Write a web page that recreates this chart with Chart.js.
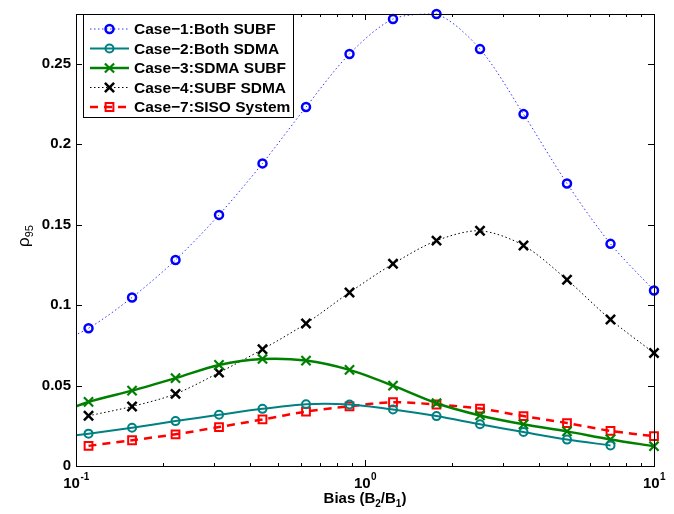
<!DOCTYPE html>
<html>
<head>
<meta charset="utf-8">
<script src="https://cdn.jsdelivr.net/npm/chart.js@4.4.0/dist/chart.umd.min.js"></script>
<style>
  html, body { margin: 0; padding: 0; background: #fff; }
  #wrap { width: 674px; height: 514px; }
</style>
</head>
<body>
<div id="wrap"><canvas id="rhoChart" width="674" height="514"></canvas></div>
<script>
// Bias ratio B2/B1 (first entry lies just left of the axis so the curves run in from the edge)
const bias = [0.0781, 0.1105, 0.1563, 0.221, 0.3125, 0.4419, 0.625, 0.8839, 1.25, 1.7678, 2.5, 3.5355, 5, 7.0711, 10];

const case1BothSubf = [0.073, 0.0856, 0.1047, 0.128, 0.156, 0.188, 0.223, 0.256, 0.2777, 0.2808, 0.259, 0.2186, 0.1755, 0.138, 0.109];
const case2BothSdma = [0.0166, 0.0201, 0.0238, 0.0279, 0.0318, 0.0355, 0.0384, 0.0382, 0.0351, 0.031, 0.0259, 0.0211, 0.0164, 0.0128, null];
const case3SdmaSubf = [0.0297, 0.0398, 0.0468, 0.0546, 0.0628, 0.0665, 0.0655, 0.0597, 0.0499, 0.039, 0.0314, 0.0259, 0.0215, 0.0165, 0.0123];
const case4SubfSdma = [null, 0.0312, 0.037, 0.0448, 0.058, 0.0725, 0.0885, 0.1078, 0.1256, 0.140, 0.1461, 0.137, 0.1157, 0.091, 0.0702];
const case7Siso = [null, 0.0125, 0.016, 0.0197, 0.0242, 0.0289, 0.0338, 0.0371, 0.0396, 0.0382, 0.0357, 0.031, 0.0267, 0.0218, 0.0185];

const seriesNames = ['Case\u22121:Both SUBF', 'Case\u22122:Both SDMA', 'Case\u22123:SDMA SUBF', 'Case\u22124:SUBF SDMA', 'Case\u22127:SISO System'];

const yTicks = [0, 0.05, 0.1, 0.15, 0.2, 0.25];
const yTickLabels = ['0', '0.05', '0.1', '0.15', '0.2', '0.25'];
const xTicks = [0.1, 1, 10];
const xTickExponents = ['-1', '0', '1'];

const FONT = '"Liberation Sans", Arial, Helvetica, sans-serif';
const NONE = 'rgba(0,0,0,0)';

function toPoints(values) {
    return bias.map((b, i) => ({ x: b, y: values[i] }));
}

// clip exactly at the left edge, let markers spill over the other sides
const clipBox = { left: 0, top: 8, right: 8, bottom: 8 };

const datasets = [
    {
        label: seriesNames[0], data: toPoints(case1BothSubf),
        borderColor: '#3333ff', borderWidth: 1, borderDash: [1.5, 2.5],
        pointStyle: 'circle', pointRadius: 4, pointBorderWidth: 2.5,
        pointBorderColor: '#0000ff', pointBackgroundColor: NONE
    },
    {
        label: seriesNames[1], data: toPoints(case2BothSdma),
        borderColor: '#008080', borderWidth: 2, borderDash: [],
        pointStyle: 'circle', pointRadius: 4, pointBorderWidth: 2,
        pointBorderColor: '#008080', pointBackgroundColor: NONE
    },
    {
        label: seriesNames[2], data: toPoints(case3SdmaSubf),
        borderColor: '#008000', borderWidth: 2.5, borderDash: [],
        pointStyle: 'crossRot', pointRadius: 6.5, pointBorderWidth: 2.2,
        pointBorderColor: '#008000', pointBackgroundColor: NONE
    },
    {
        label: seriesNames[3], data: toPoints(case4SubfSdma),
        borderColor: '#000000', borderWidth: 1, borderDash: [1.5, 2.5],
        pointStyle: 'crossRot', pointRadius: 6.5, pointBorderWidth: 2.5,
        pointBorderColor: '#000000', pointBackgroundColor: NONE
    },
    {
        label: seriesNames[4], data: toPoints(case7Siso),
        borderColor: '#ff0000', borderWidth: 2.5, borderDash: [8, 6],
        pointStyle: 'rect', pointRadius: 5.5, pointBorderWidth: 2,
        pointBorderColor: '#ff0000', pointBackgroundColor: NONE
    }
].map(ds => Object.assign(ds, { tension: 0.3, fill: false, clip: clipBox, spanGaps: false }));

// box, inward ticks, tick labels, axis titles and legend in the MATLAB look
const matlabFrame = {
    id: 'matlabFrame',
    afterDraw(chart) {
        const { ctx, chartArea: a, scales: { x, y } } = chart;
        ctx.save();
        ctx.strokeStyle = '#000';
        ctx.fillStyle = '#000';
        ctx.lineWidth = 1;
        ctx.setLineDash([]);
        ctx.strokeRect(a.left + 0.5, a.top + 0.5, a.right - a.left, a.bottom - a.top);

        ctx.beginPath();
        yTicks.forEach(v => {
            const py = Math.round(y.getPixelForValue(v)) + 0.5;
            ctx.moveTo(a.left, py); ctx.lineTo(a.left + 6, py);
            ctx.moveTo(a.right, py); ctx.lineTo(a.right - 6, py);
        });
        xTicks.forEach(v => {
            const px = Math.round(x.getPixelForValue(v)) + 0.5;
            ctx.moveTo(px, a.bottom); ctx.lineTo(px, a.bottom - 6);
            ctx.moveTo(px, a.top); ctx.lineTo(px, a.top + 6);
        });
        for (let i = 0; i < xTicks.length - 1; i++) {
            for (let m = 2; m <= 9; m++) {
                const px = Math.round(x.getPixelForValue(xTicks[i] * m)) + 0.5;
                ctx.moveTo(px, a.bottom); ctx.lineTo(px, a.bottom - 3);
                ctx.moveTo(px, a.top); ctx.lineTo(px, a.top + 3);
            }
        }
        ctx.stroke();

        // x tick labels: 10 with a raised exponent
        ctx.textBaseline = 'middle';
        ctx.textAlign = 'left';
        xTicks.forEach((v, i) => {
            const px = x.getPixelForValue(v);
            ctx.font = 'bold 15px ' + FONT;
            const wBase = ctx.measureText('10').width;
            ctx.font = 'bold 10px ' + FONT;
            const wExp = ctx.measureText(xTickExponents[i]).width;
            const start = px - (wBase + wExp) / 2;
            ctx.font = 'bold 15px ' + FONT;
            ctx.fillText('10', start, a.bottom + 18);
            ctx.font = 'bold 10px ' + FONT;
            ctx.fillText(xTickExponents[i], start + wBase + 0.5, a.bottom + 11);
        });

        // x title: Bias (B2/B1) with subscripts
        const parts = [['Bias (B', 0], ['2', 1], ['/B', 0], ['1', 1], [')', 0]];
        const fontFor = sub => (sub ? 'bold 10px ' : 'bold 15px ') + FONT;
        let total = 0;
        parts.forEach(([t, sub]) => { ctx.font = fontFor(sub); total += ctx.measureText(t).width; });
        let cx = (a.left + a.right) / 2 - total / 2;
        parts.forEach(([t, sub]) => {
            ctx.font = fontFor(sub);
            ctx.fillText(t, cx, 499 + (sub ? 5 : 0));
            cx += ctx.measureText(t).width;
        });

        // y title: rho_95, rotated
        ctx.save();
        ctx.translate(24, (a.top + a.bottom) / 2 - 4);
        ctx.rotate(-Math.PI / 2);
        ctx.font = '17px ' + FONT;
        const wRho = ctx.measureText('\u03c1').width;
        ctx.font = '11px ' + FONT;
        const wSub = ctx.measureText('95').width;
        const s = -(wRho + wSub) / 2;
        ctx.font = '17px ' + FONT;
        ctx.fillText('\u03c1', s, 0);
        ctx.font = '11px ' + FONT;
        ctx.fillText('95', s + wRho, 6);
        ctx.restore();

        // legend
        const box = { left: 83, top: 14, width: 210, height: 103 };
        ctx.fillStyle = '#fff';
        ctx.fillRect(box.left, box.top, box.width, box.height);
        ctx.strokeStyle = '#000';
        ctx.lineWidth = 1;
        ctx.strokeRect(box.left + 0.5, box.top + 0.5, box.width, box.height);
        chart.data.datasets.forEach((ds, i) => {
            const cy = 29 + i * 19.5;
            ctx.save();
            ctx.strokeStyle = ds.borderColor;
            ctx.lineWidth = ds.borderWidth;
            ctx.setLineDash(ds.borderDash);
            ctx.beginPath();
            ctx.moveTo(90, cy);
            ctx.lineTo(129, cy);
            ctx.stroke();
            ctx.setLineDash([]);
            ctx.fillStyle = NONE;
            ctx.strokeStyle = ds.pointBorderColor;
            ctx.lineWidth = ds.pointBorderWidth;
            Chart.helpers.drawPoint(ctx, {
                pointStyle: ds.pointStyle, radius: ds.pointRadius,
                borderWidth: ds.pointBorderWidth, rotation: 0
            }, 109.5, cy);
            ctx.restore();
            ctx.fillStyle = '#000';
            ctx.font = 'bold 15.5px ' + FONT;
            ctx.textAlign = 'left';
            ctx.fillText(ds.label, 134, cy + 1);
        });
        ctx.restore();
    }
};

const config = {
    type: 'line',
    data: { datasets },
    options: {
        responsive: false,
        animation: false,
        layout: { padding: { left: 0, right: 20, top: 10, bottom: 0 } },
        plugins: { legend: { display: false }, tooltip: { enabled: false } },
        scales: {
            x: {
                type: 'logarithmic',
                min: 0.1,
                max: 10,
                grid: { display: false, drawTicks: false },
                border: { display: false },
                ticks: { display: false },
                afterFit: scale => { scale.height = 48; }
            },
            y: {
                type: 'linear',
                min: 0,
                max: 0.2808,
                grid: { display: false, drawTicks: false },
                border: { display: false },
                afterBuildTicks: scale => { scale.ticks = yTicks.map(v => ({ value: v })); },
                ticks: {
                    color: '#000',
                    padding: 5,
                    font: { family: FONT, size: 15, weight: 'bold' },
                    callback: (value) => yTickLabels[yTicks.indexOf(value)]
                },
                afterFit: scale => { scale.width = 76; }
            }
        }
    },
    plugins: [matlabFrame]
};

window.onload = () => {
    const ctx = document.getElementById('rhoChart').getContext('2d');
    new Chart(ctx, config);
};
</script>
</body>
</html>
